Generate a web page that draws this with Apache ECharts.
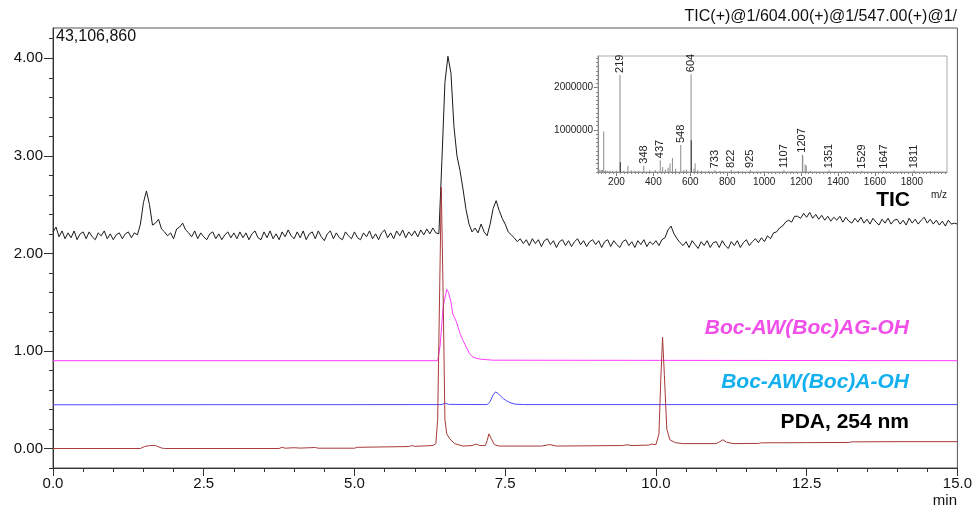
<!DOCTYPE html>
<html><head><meta charset="utf-8">
<script src="https://cdn.jsdelivr.net/npm/echarts@6/dist/echarts.min.js"></script>
<style>html,body{margin:0;padding:0;background:#fff}#c{width:975px;height:509px}</style>
</head><body><div id="c"></div>
<script>
// ---- Data ----
const ticStart = 0, ticStep = 0.05; // TIC sampled every 0.05 min
const ticValues = [
 2.22,2.27,2.17,2.23,2.15,2.21,2.16,2.23,2.14,2.20,2.22,2.15,2.22,2.17,2.14,2.21,2.18,2.23,2.15,2.20,
 2.14,2.19,2.21,2.15,2.20,2.22,2.16,2.21,2.19,2.30,2.52,2.64,2.50,2.29,2.31,2.35,2.25,2.22,2.18,2.21,
 2.15,2.25,2.27,2.31,2.24,2.21,2.17,2.23,2.15,2.21,2.17,2.14,2.20,2.22,2.15,2.20,2.14,2.19,2.22,2.16,
 2.21,2.15,2.22,2.16,2.21,2.14,2.20,2.23,2.16,2.14,2.22,2.16,2.23,2.15,2.20,2.14,2.22,2.17,2.24,2.18,
 2.15,2.22,2.16,2.23,2.14,2.20,2.22,2.15,2.23,2.17,2.13,2.20,2.23,2.15,2.21,2.16,2.14,2.22,2.18,2.15,
 2.22,2.16,2.14,2.21,2.17,2.23,2.15,2.20,2.14,2.21,2.24,2.16,2.21,2.15,2.23,2.18,2.24,2.16,2.22,2.18,
 2.23,2.17,2.24,2.19,2.25,2.20,2.26,2.21,2.20,2.95,3.75,4.02,3.85,3.30,3.00,2.85,2.66,2.45,2.30,2.22,
 2.26,2.21,2.30,2.22,2.18,2.30,2.46,2.54,2.44,2.36,2.30,2.22,2.19,2.16,2.12,2.15,2.10,2.14,2.08,2.15,
 2.10,2.14,2.07,2.13,2.15,2.09,2.13,2.06,2.12,2.14,2.08,2.13,2.07,2.12,2.15,2.09,2.13,2.07,2.12,2.14,
 2.09,2.13,2.06,2.12,2.14,2.07,2.13,2.09,2.06,2.12,2.14,2.08,2.12,2.06,2.13,2.09,2.14,2.07,2.12,2.09,
 2.13,2.08,2.14,2.16,2.24,2.28,2.20,2.15,2.11,2.08,2.12,2.06,2.13,2.09,2.05,2.12,2.08,2.13,2.06,2.11,
 2.12,2.06,2.13,2.08,2.05,2.12,2.08,2.13,2.06,2.11,2.14,2.08,2.12,2.15,2.11,2.16,2.12,2.18,2.15,2.21,
 2.22,2.26,2.28,2.32,2.34,2.32,2.38,2.38,2.36,2.41,2.37,2.42,2.36,2.40,2.35,2.39,2.34,2.38,2.33,2.37,
 2.34,2.38,2.32,2.37,2.33,2.31,2.36,2.32,2.37,2.31,2.35,2.30,2.36,2.32,2.29,2.35,2.31,2.36,2.30,2.34,
 2.35,2.30,2.34,2.29,2.36,2.31,2.35,2.30,2.34,2.37,2.31,2.35,2.30,2.34,2.29,2.33,2.28,2.34,2.30,2.31,
 2.30
];
const magentaData = [[0,0.90],[6.38,0.90],[6.42,1.05],[6.47,1.45],[6.53,1.63],[6.56,1.60],[6.60,1.50],[6.63,1.38],
 [6.66,1.34],[6.69,1.30],[6.72,1.24],[6.75,1.18],[6.79,1.12],[6.83,1.07],[6.87,1.02],[6.91,0.97],[6.96,0.94],
 [7.02,0.925],[7.10,0.915],[7.30,0.905],[15,0.90]];
const blueData = [[0,0.448],[6.45,0.45],[6.50,0.465],[6.56,0.452],[7.20,0.45],[7.25,0.48],[7.30,0.55],[7.34,0.58],
 [7.38,0.565],[7.42,0.54],[7.47,0.51],[7.52,0.49],[7.58,0.47],[7.66,0.455],[7.80,0.45],[15,0.45]];
const pdaData = [[0,0],[1.45,0],[1.52,0.02],[1.60,0.03],[1.70,0.03],[1.80,0.005],[1.85,0],[3.75,0],[3.80,0.012],
 [3.85,0.003],[4.00,0.008],[4.10,0.004],[4.35,0.01],[4.40,0.003],[5.00,0.003],[5.05,0.012],[5.90,0.02],[5.95,0.03],
 [6.00,0.022],[6.30,0.03],[6.35,0.05],[6.38,0.3],[6.41,1.5],[6.44,2.68],[6.47,1.6],[6.50,0.3],[6.53,0.15],[6.58,0.10],
 [6.66,0.05],[6.80,0.025],[6.95,0.03],[7.02,0.045],[7.08,0.03],[7.17,0.03],[7.20,0.08],[7.23,0.15],[7.27,0.10],
 [7.32,0.04],[7.40,0.025],[8.10,0.025],[8.24,0.04],[8.35,0.025],[9.45,0.03],[9.52,0.038],[9.60,0.03],[9.88,0.035],
 [9.93,0.045],[10.00,0.04],[10.05,0.15],[10.08,0.7],[10.11,1.14],[10.14,0.75],[10.18,0.2],[10.23,0.09],[10.32,0.06],
 [10.45,0.05],[11.00,0.05],[11.06,0.07],[11.11,0.09],[11.17,0.065],[11.28,0.05],[11.70,0.052],[11.75,0.058],
 [12.50,0.06],[13.20,0.062],[13.25,0.068],[14.00,0.07],[15.00,0.07]];
const xLabelValues = [0, 2.5, 5, 7.5, 10, 12.5, 15];
const xMinorTicks = [0,0.5,1,1.5,2,2.5,3,3.5,4,4.5,5,5.5,6,6.5,7,7.5,8,8.5,9,9.5,10,10.5,11,11.5,12,12.5,13,13.5,14,14.5,15];
const yLabelValues = [0, 1, 2, 3, 4];
const yMinorTicks = [-0.2,0,0.2,0.4,0.6,0.8,1,1.2,1.4,1.6,1.8,2,2.2,2.4,2.6,2.8,3,3.2,3.4,3.6,3.8,4,4.2];
// Inset mass spectrum
const msMz  = [110,118,125,131,140,150,165,180,200,219,221,240,262,280,300,320,348,380,410,437,450,465,480,490,503,520,548,565,580,604,605,620,626,640,660,700,733,760,822,860,925,1000,1107,1150,1207,1209,1222,1228,1250,1351,1450,1529,1647,1811,1900];
const msInt = [60000,40000,50000,960000,40000,30000,30000,25000,30000,2300000,230000,30000,150000,40000,30000,30000,150000,40000,50000,280000,120000,60000,100000,200000,330000,80000,640000,50000,60000,2320000,750000,80000,210000,40000,30000,25000,40000,20000,50000,20000,50000,20000,50000,20000,410000,380000,180000,150000,30000,40000,20000,30000,30000,40000,15000];
const msLabelled = [219,348,437,548,604,733,822,925,1107,1207,1351,1529,1647,1811];
const msDark = [221,605];
const msXLabels = [200,400,600,800,1000,1200,1400,1600,1800];
const msYLabels = [1000000, 2000000];

// ---- Build ----
const ticData = ticValues.map((v, i) => [+(ticStart + i * ticStep).toFixed(2), v]);
const msData = msMz.map((m, i) => {
  const item = { value: [m, msInt[i]] };
  if (msLabelled.includes(m)) item.label = { show: true, formatter: String(m) };
  if (msDark.includes(m)) item.itemStyle = { color: '#333' };
  return item;
});
const msMinorX = []; for (let m = 100; m <= 1990; m += 20) msMinorX.push(m);
const msMinorY = []; for (let v = 0; v <= 2700000; v += 100000) msMinorY.push(v);

const FONT = "'Liberation Sans', Arial, sans-serif";
const axisC = '#333';
const chart = echarts.init(document.getElementById('c'), null, { renderer: 'canvas' });
chart.setOption({
  animation: false,
  backgroundColor: '#fff',
  textStyle: { fontFamily: FONT },
  grid: [
    { left: 53, right: 17, top: 28, bottom: 41, show: true, borderColor: '#555', borderWidth: 1, backgroundColor: 'transparent' },
    { left: 598, right: 28, top: 56, bottom: 337, show: true, borderColor: '#aaa', borderWidth: 1, backgroundColor: 'transparent' }
  ],
  xAxis: [
    { gridIndex: 0, type: 'value', min: 0, max: 15, interval: 2.5, position: 'bottom',
      axisLine: { show: true, onZero: false, lineStyle: { color: axisC } },
      axisTick: { show: true, length: 8, customValues: xLabelValues, lineStyle: { color: axisC } },
      axisLabel: { fontSize: 15, color: '#111', margin: 8, fontFamily: FONT, customValues: xLabelValues, formatter: v => v.toFixed(1) },
      splitLine: { show: false } },
    { gridIndex: 0, type: 'value', min: 0, max: 15, position: 'bottom',
      axisLine: { show: false, onZero: false },
      axisTick: { show: true, length: 4, customValues: xMinorTicks, lineStyle: { color: axisC } },
      axisLabel: { show: false }, splitLine: { show: false } },
    { gridIndex: 1, type: 'value', min: 100, max: 1990, position: 'bottom',
      axisLine: { show: true, onZero: false, lineStyle: { color: '#888' } },
      axisTick: { show: true, length: 4, customValues: msXLabels, lineStyle: { color: '#777' } },
      axisLabel: { fontSize: 10, color: '#222', margin: 5, fontFamily: FONT, customValues: msXLabels, formatter: v => String(v) },
      splitLine: { show: false } },
    { gridIndex: 1, type: 'value', min: 100, max: 1990, position: 'bottom',
      axisLine: { show: false, onZero: false },
      axisTick: { show: true, length: 2, customValues: msMinorX, lineStyle: { color: '#888' } },
      axisLabel: { show: false }, splitLine: { show: false } }
  ],
  yAxis: [
    { gridIndex: 0, type: 'value', min: -0.2, max: 4.31, position: 'left',
      axisLine: { show: true, onZero: false, lineStyle: { color: axisC } },
      axisTick: { show: true, length: 9, customValues: yLabelValues, lineStyle: { color: axisC } },
      axisLabel: { fontSize: 15, color: '#111', margin: 10, fontFamily: FONT, customValues: yLabelValues, formatter: v => v.toFixed(2) },
      splitLine: { show: false } },
    { gridIndex: 0, type: 'value', min: -0.2, max: 4.31, position: 'left',
      axisLine: { show: false, onZero: false },
      axisTick: { show: true, length: 4, customValues: yMinorTicks, lineStyle: { color: axisC } },
      axisLabel: { show: false }, splitLine: { show: false } },
    { gridIndex: 1, type: 'value', min: 0, max: 2750000, position: 'left',
      axisLine: { show: true, onZero: false, lineStyle: { color: '#888' } },
      axisTick: { show: true, length: 4, customValues: msYLabels, lineStyle: { color: '#777' } },
      axisLabel: { fontSize: 10, color: '#222', margin: 5, fontFamily: FONT, customValues: msYLabels, formatter: v => String(v) },
      splitLine: { show: false } },
    { gridIndex: 1, type: 'value', min: 0, max: 2750000, position: 'left',
      axisLine: { show: false, onZero: false },
      axisTick: { show: true, length: 2, customValues: msMinorY, lineStyle: { color: '#888' } },
      axisLabel: { show: false }, splitLine: { show: false } }
  ],
  series: [
    { name: 'PDA', type: 'line', xAxisIndex: 0, yAxisIndex: 0, data: pdaData, showSymbol: false,
      lineStyle: { color: '#a83a3a', width: 1 }, z: 3 },
    { name: 'Boc-AW(Boc)A-OH', type: 'line', xAxisIndex: 0, yAxisIndex: 0, data: blueData, showSymbol: false,
      lineStyle: { color: '#4b4bff', width: 1 }, z: 2 },
    { name: 'Boc-AW(Boc)AG-OH', type: 'line', xAxisIndex: 0, yAxisIndex: 0, data: magentaData, showSymbol: false,
      lineStyle: { color: '#ff3cff', width: 1 }, z: 2 },
    { name: 'TIC', type: 'line', xAxisIndex: 0, yAxisIndex: 0, data: ticData, showSymbol: false,
      lineStyle: { color: '#1a1a1a', width: 1 }, z: 2 },
    { name: 'MS', type: 'bar', xAxisIndex: 2, yAxisIndex: 2, data: msData, barWidth: 1,
      itemStyle: { color: '#8c8c8c' },
      label: { show: false, position: 'top', rotate: 90, align: 'left', verticalAlign: 'middle', distance: 2,
               fontSize: 11, color: '#222', fontFamily: FONT } }
  ],
  graphic: [
    { type: 'text', x: 957, y: 17, style: { text: 'TIC(+)@1/604.00(+)@1/547.00(+)@1/', align: 'right', verticalAlign: 'middle', font: '16px ' + FONT, fill: '#111' } },
    { type: 'text', x: 56, y: 37, style: { text: '43,106,860', align: 'left', verticalAlign: 'middle', font: '16px ' + FONT, fill: '#111' } },
    { type: 'text', x: 957, y: 501, style: { text: 'min', align: 'right', verticalAlign: 'middle', font: '15px ' + FONT, fill: '#111' } },
    { type: 'text', x: 910, y: 200, style: { text: 'TIC', align: 'right', verticalAlign: 'middle', font: 'bold 21px ' + FONT, fill: '#000' } },
    { type: 'text', x: 947, y: 195, style: { text: 'm/z', align: 'right', verticalAlign: 'middle', font: '10px ' + FONT, fill: '#222' } },
    { type: 'text', x: 909, y: 328, style: { text: 'Boc-AW(Boc)AG-OH', align: 'right', verticalAlign: 'middle', font: 'italic bold 21px ' + FONT, fill: '#f04fe8' } },
    { type: 'text', x: 909, y: 382, style: { text: 'Boc-AW(Boc)A-OH', align: 'right', verticalAlign: 'middle', font: 'italic bold 21px ' + FONT, fill: '#12b0ee' } },
    { type: 'text', x: 909, y: 422, style: { text: 'PDA, 254 nm', align: 'right', verticalAlign: 'middle', font: 'bold 21px ' + FONT, fill: '#000' } }
  ]
});
</script>
</body></html>
